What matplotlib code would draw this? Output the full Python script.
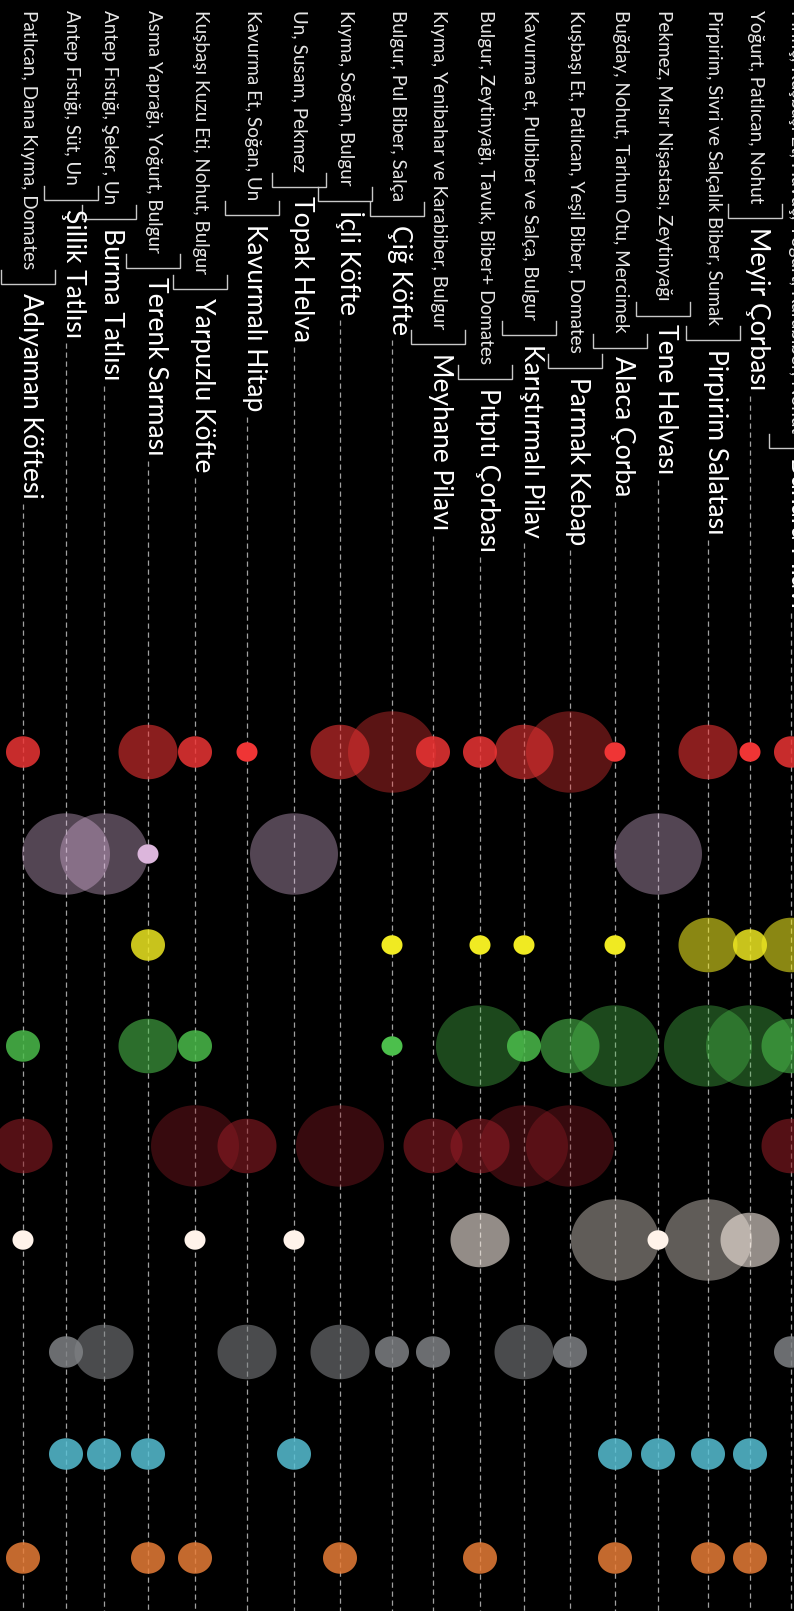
import matplotlib
matplotlib.use("Agg")
import matplotlib.pyplot as plt
from matplotlib.path import Path
from matplotlib.markers import MarkerStyle
from matplotlib.colors import to_rgba
import numpy as np

# ---------------- data ----------------
dishes = ["Adıyaman Köftesi", "Şillik Tatlısı", "Burma Tatlısı", "Terenk Sarması",
          "Yarpuzlu Köfte", "Kavurmalı Hitap", "Topak Helva", "İçli Köfte",
          "Çiğ Köfte", "Meyhane Pilavı", "Pıtpıtı Çorbası", "Karıştırmalı Pilav",
          "Parmak Kebap", "Alaca Çorba", "Tene Helvası", "Pirpirim Salatası",
          "Meyir Çorbası", "Buhara Pilavı"]
ingredients = ["Patlıcan, Dana Kıyma, Domates",
               "Antep Fıstığı, Süt, Un",
               "Antep Fıstığı, Şeker, Un",
               "Asma Yaprağı, Yoğurt, Bulgur",
               "Kuşbaşı Kuzu Eti, Nohut, Bulgur",
               "Kavurma Et, Soğan, Un",
               "Un, Susam, Pekmez",
               "Kıyma, Soğan, Bulgur",
               "Bulgur, Pul Biber, Salça",
               "Kıyma, Yenibahar ve Karabiber, Bulgur",
               "Bulgur, Zeytinyağı, Tavuk, Biber+ Domates",
               "Kavurma et, Pulbiber ve Salça, Bulgur",
               "Kuşbaşı Et, Patlıcan, Yeşil Biber, Domates",
               "Buğday, Nohut, Tarhun Otu, Mercimek",
               "Pekmez, Mısır Nişastası, Zeytinyağı",
               "Pirpirim, Sivri ve Salçalık Biber, Sumak",
               "Yoğurt, Patlıcan, Nohut",
               "Pirinç, Kuşbaşı Et, Havuç, Yoğurt, Karabiber, Nohut"]

# amount level per dish (0 = none) for each ingredient group (row)
et       = [2, 0, 0, 3, 2, 1, 0, 3, 4, 2, 2, 3, 4, 1, 0, 3, 1, 2]
seker    = [0, 4, 4, 1, 0, 0, 4, 0, 0, 0, 0, 0, 0, 0, 4, 0, 0, 0]
yag      = [0, 0, 0, 2, 0, 0, 0, 0, 1, 0, 1, 1, 0, 1, 0, 3, 2, 3]
sebze    = [2, 0, 0, 3, 2, 0, 0, 0, 1, 0, 4, 2, 3, 4, 0, 4, 4, 3]
salca    = [3, 0, 0, 0, 4, 3, 0, 4, 0, 3, 3, 4, 4, 0, 0, 0, 0, 3]
sut      = [1, 0, 0, 0, 1, 0, 1, 0, 0, 0, 3, 0, 0, 4, 1, 4, 3, 0]
tahil    = [0, 2, 3, 0, 0, 3, 0, 3, 2, 2, 0, 3, 2, 0, 0, 0, 0, 2]
baharat  = [0, 2, 2, 2, 0, 0, 2, 0, 0, 0, 0, 0, 0, 2, 2, 2, 2, 0]
kuruyemis= [2, 0, 0, 2, 2, 0, 0, 2, 0, 0, 2, 0, 0, 2, 0, 2, 2, 0]

rows = [et, seker, yag, sebze, salca, sut, tahil, baharat, kuruyemis]

# ---------------- layout / style ----------------
W, H = 794, 1611
col_x = [23, 66, 104, 148, 195, 247, 294, 340, 392, 433, 480, 524, 570, 615,
         658, 708, 750, 791]
row_y = [752, 854, 945, 1046, 1146, 1240, 1352, 1454, 1558]
row_colors = ["#ef3535", "#dcb6dc", "#f0ea22", "#4cbf4c", "#921c25",
              "#fff3ea", "#808386", "#58c2d6", "#ea7e37"]
level_diam = {1: 21, 2: 34, 3: 59, 4: 88}     # ellipse width in px
level_alpha = {1: 1.0, 2: 0.84, 3: 0.58, 4: 0.38}

FONT = ["Lato", "DejaVu Sans"]
plt.rcParams['font.family'] = FONT

fig = plt.figure(figsize=(W / 100, H / 100), dpi=100, facecolor="black")
ax = fig.add_axes([0, 0, 1, 1])
ax.set_facecolor("black")
ax.set_xlim(0, W)
ax.set_ylim(H, 0)
ax.axis("off")

renderer = fig.canvas.get_renderer()


def fit_size(sample, target_px):
    t = ax.text(0, 0, sample, fontsize=10)
    w = t.get_window_extent(renderer).width
    t.remove()
    return 10 * target_px / w


fs_ing = fit_size(ingredients[0], 258)
fs_name = fit_size(dishes[0], 206)


def y_end(t):
    bb = t.get_window_extent(renderer)
    pts = ax.transData.inverted().transform([[bb.x0, bb.y0], [bb.x1, bb.y1]])
    return pts[:, 1].max()


for x, dish, ing in zip(col_x, dishes, ingredients):
    t1 = ax.text(x, 10, ing, rotation=-90, rotation_mode="anchor",
                 ha="left", va="baseline", fontsize=fs_ing, color="#e6e6e6")
    ye = y_end(t1)
    yb = ye + 15
    ax.plot([x - 22, x - 22, x + 32, x + 32], [yb - 14, yb, yb, yb - 14],
            color="#c8c8c8", lw=1.0, solid_joinstyle="miter")
    t2 = ax.text(x, yb + 9, dish, rotation=-90, rotation_mode="anchor",
                 ha="left", va="baseline", fontsize=fs_name, color="white")
    yn = y_end(t2)
    ax.plot([x, x], [yn + 5, H + 5], color="#a0a0a0", lw=0.9,
            dashes=(4.2, 3.0))

# ellipse marker (slightly wider than tall)
theta = np.linspace(0, 2 * np.pi, 120)
verts = np.column_stack([np.cos(theta), 0.925 * np.sin(theta)])
ell = MarkerStyle(Path(verts, closed=True))

for r, vals in enumerate(rows):
    xs, ys, ss, cs = [], [], [], []
    for i, v in enumerate(vals):
        if v:
            xs.append(col_x[i])
            ys.append(row_y[r])
            ss.append((level_diam[v] * 0.72) ** 2)
            cs.append(to_rgba(row_colors[r], level_alpha[v]))
    ax.scatter(xs, ys, s=ss, c=cs, marker=ell, linewidths=0, zorder=3)

fig.savefig("out.png", dpi=100, facecolor="black")
